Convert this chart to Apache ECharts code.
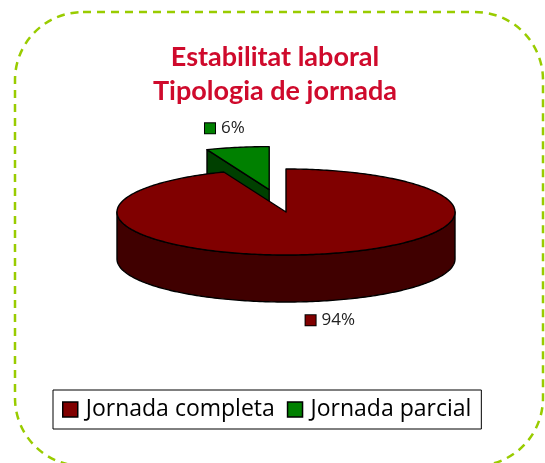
<!DOCTYPE html>
<html>
<head>
<meta charset="utf-8">
<script src="https://cdn.jsdelivr.net/npm/echarts@6/dist/echarts.min.js"></script>
<style>
  html, body { margin: 0; padding: 0; background: #fff; }
  #chart { width: 545px; height: 463px; }
</style>
</head>
<body>
<div id="chart"></div>
<script>
// Job stability: type of working day
const categories = ['Jornada completa', 'Jornada parcial'];
const values = [94, 6];
const topColors = ['#800000', '#008000'];
const sideColors = ['#400000', '#004000'];
const explode = [0, 0.53];

// Tilted-disc geometry
const CX = 286, CY = 212, RX = 169, RY = 43, DEPTH = 47;
const total = values.reduce((a, b) => a + b, 0);

function pt(cx, cy, t, dy) {
  return [cx + RX * Math.sin(t), cy - RY * Math.cos(t) + (dy || 0)];
}
function arc(cx, cy, a, b, dy) {
  const pts = [];
  const n = Math.max(2, Math.ceil((b - a) / (Math.PI / 180)));
  for (let k = 0; k <= n; k++) pts.push(pt(cx, cy, a + (b - a) * k / n, dy));
  return pts;
}

function makeRender(i) {
  return function (params, api) {
    let before = 0;
    for (let k = 0; k < i; k++) before += values[k];
    const start = before / total * 2 * Math.PI;
    const end = (before + values[i]) / total * 2 * Math.PI;
    const mid = (start + end) / 2;
    const cx = CX + Math.sin(mid) * RX * explode[i];
    const cy = CY - Math.cos(mid) * RY * explode[i];
    const line = { stroke: '#000', lineWidth: 1.4, lineJoin: 'round' };
    const children = [];
    const apex = [cx, cy];
    // radial faces facing the viewer
    if (Math.sin(start) < -1e-6) {
      const p = pt(cx, cy, start);
      children.push({ type: 'polygon', shape: { points: [apex, p, [p[0], p[1] + DEPTH], [cx, cy + DEPTH]] },
        style: Object.assign({ fill: sideColors[i] }, line) });
    }
    if (Math.sin(end) > 1e-6) {
      const p = pt(cx, cy, end);
      children.push({ type: 'polygon', shape: { points: [apex, p, [p[0], p[1] + DEPTH], [cx, cy + DEPTH]] },
        style: Object.assign({ fill: sideColors[i] }, line) });
    }
    // front outer wall
    const a = Math.max(start, Math.PI / 2), b = Math.min(end, 3 * Math.PI / 2);
    if (b > a) {
      const pts = arc(cx, cy, a, b, 0).concat(arc(cx, cy, a, b, DEPTH).reverse());
      children.push({ type: 'polygon', shape: { points: pts },
        style: Object.assign({ fill: sideColors[i] }, line) });
    }
    // top surface
    children.push({ type: 'polygon', shape: { points: [apex].concat(arc(cx, cy, start, end, 0)) },
      style: Object.assign({ fill: topColors[i] }, line) });
    // value label
    const lx = cx + Math.sin(mid) * RX * 1.4;
    const ly = cy - Math.cos(mid) * RY * 1.45 + (Math.cos(mid) < 0 ? DEPTH : 0);
    children.push({
      type: 'text',
      style: {
        x: lx, y: ly, align: 'center', verticalAlign: 'middle',
        text: '{sq|}{t|' + Math.round(values[i] / total * 100) + '%}',
        rich: {
          sq: { width: 10, height: 10, backgroundColor: topColors[i], borderColor: '#000', borderWidth: 1 },
          t: { fontSize: 17, fontFamily: 'Open Sans', fill: '#222', padding: [0, 0, 0, 6] }
        }
      }
    });
    return { type: 'group', children: children };
  };
}

const series = categories.map((name, i) => ({
  type: 'custom',
  name: name,
  coordinateSystem: 'none',
  z: i === 0 ? 3 : 2,
  itemStyle: { color: topColors[i] },
  data: [[values[i]]],
  renderItem: makeRender(i),
  silent: true
}));

const chart = echarts.init(document.getElementById('chart'), null, { renderer: 'canvas' });
chart.setOption({
  animation: false,
  title: {
    text: 'Estabilitat laboral\nTipologia de jornada',
    left: 270, top: 35, textAlign: 'center',
    textStyle: { color: '#cf0a2c', fontSize: 27, fontWeight: 'bold', fontFamily: 'Lato', lineHeight: 34 }
  },
  legend: {
    data: categories,
    left: 53, top: 390,
    itemWidth: 15, itemHeight: 15, itemGap: 12,
    padding: [8, 10, 8, 9],
    borderColor: '#000', borderWidth: 1,
    icon: 'rect',
    selectedMode: false,
    itemStyle: { borderColor: '#000', borderWidth: 1.5 },
    textStyle: { fontSize: 23, fontFamily: 'Open Sans', color: '#000', padding: [0, 0, 0, 3] }
  },
  graphic: [{
    type: 'rect', z: -1, silent: true,
    shape: { x: 15, y: 12, width: 528, height: 454, r: 68 },
    style: { fill: null, stroke: '#99cc00', lineWidth: 2.5, lineDash: [8, 6] }
  }],
  series: series
});
</script>
</body>
</html>
